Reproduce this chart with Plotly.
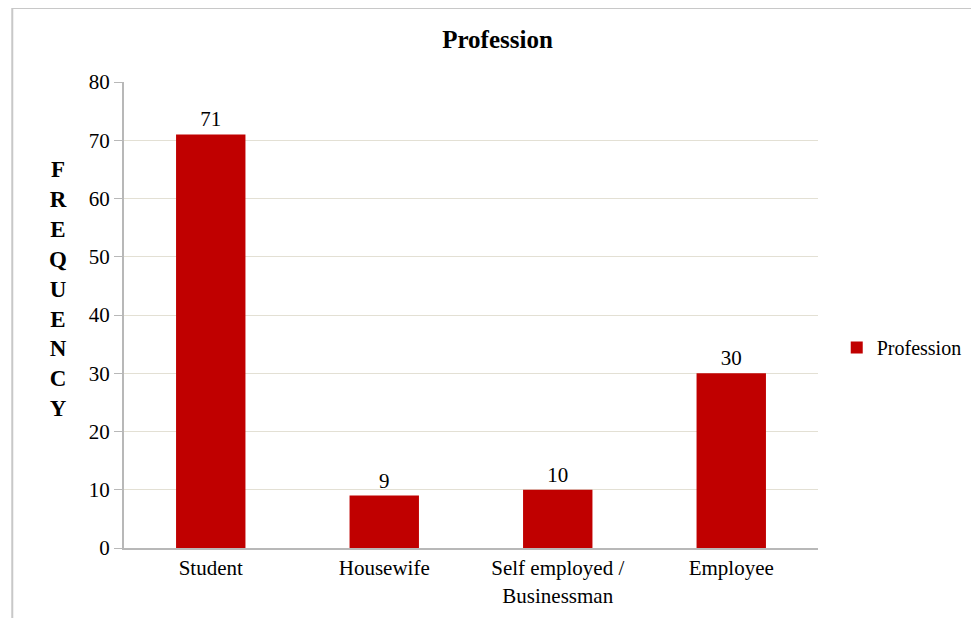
import plotly.graph_objects as go

categories = ['Student', 'Housewife', 'Self employed /<br>Businessman', 'Employee']
counts = [71, 9, 10, 30]
y_ticks = [0, 10, 20, 30, 40, 50, 60, 70, 80]

serif = 'Liberation Serif, Times New Roman, serif'
bar_color = '#C00000'

fig = go.Figure()
fig.add_trace(go.Bar(
    x=categories,
    y=counts,
    name='Profession',
    marker=dict(color=bar_color, line=dict(width=0)),
    text=counts,
    textposition='outside',
    textfont=dict(family=serif, size=21, color='#000000'),
    cliponaxis=False,
))

# page body has an 8px margin, so margins are offset to line up with the reference
fig.update_layout(
    width=979,
    height=618,
    paper_bgcolor='white',
    plot_bgcolor='white',
    margin=dict(l=116, r=169, t=74, b=78),
    bargap=0.6,
    uniformtext=dict(mode=False),
    title=dict(text='<b>Profession</b>', x=0.5, xanchor='center', y=0.95, yanchor='middle',
               font=dict(family=serif, size=25, color='#000000')),
    showlegend=True,
    legend=dict(x=1.027, y=0.43, xanchor='left', yanchor='middle',
                font=dict(family=serif, size=20, color='#000000'),
                itemwidth=30, bgcolor='rgba(0,0,0,0)'),
    font=dict(family=serif, size=20, color='#000000'),
)

fig.update_yaxes(
    range=[0, 80],
    tickvals=y_ticks,
    showgrid=True,
    gridcolor='#e3e0d4',
    gridwidth=1,
    zeroline=False,
    showline=True,
    linecolor='#b8b8b8',
    linewidth=2,
    ticks='outside',
    ticklen=8,
    tickcolor='#b8b8b8',
    tickfont=dict(family=serif, size=21, color='#000000'),
)
fig.update_xaxes(
    showline=True,
    linecolor='#b8b8b8',
    linewidth=2,
    ticks='',
    tickfont=dict(family=serif, size=21, color='#000000'),
)

# vertical stacked axis title
fig.add_annotation(
    text='<b>' + '<br>'.join(list('FREQUENCY')) + '</b>',
    xref='paper', yref='paper',
    x=-0.095, y=0.555, xanchor='center', yanchor='middle',
    showarrow=False,
    font=dict(family=serif, size=23, color='#000000'),
)

# outer frame (left and top edges)
fig.add_shape(type='line', xref='paper', yref='paper', x0=-0.161, x1=-0.161, y0=-0.2, y1=1.159,
              line=dict(color='#c8c8c8', width=2))
fig.add_shape(type='line', xref='paper', yref='paper', x0=-0.161, x1=1.3, y0=1.159, y1=1.159,
              line=dict(color='#c8c8c8', width=2))

fig.write_html('out.html')
